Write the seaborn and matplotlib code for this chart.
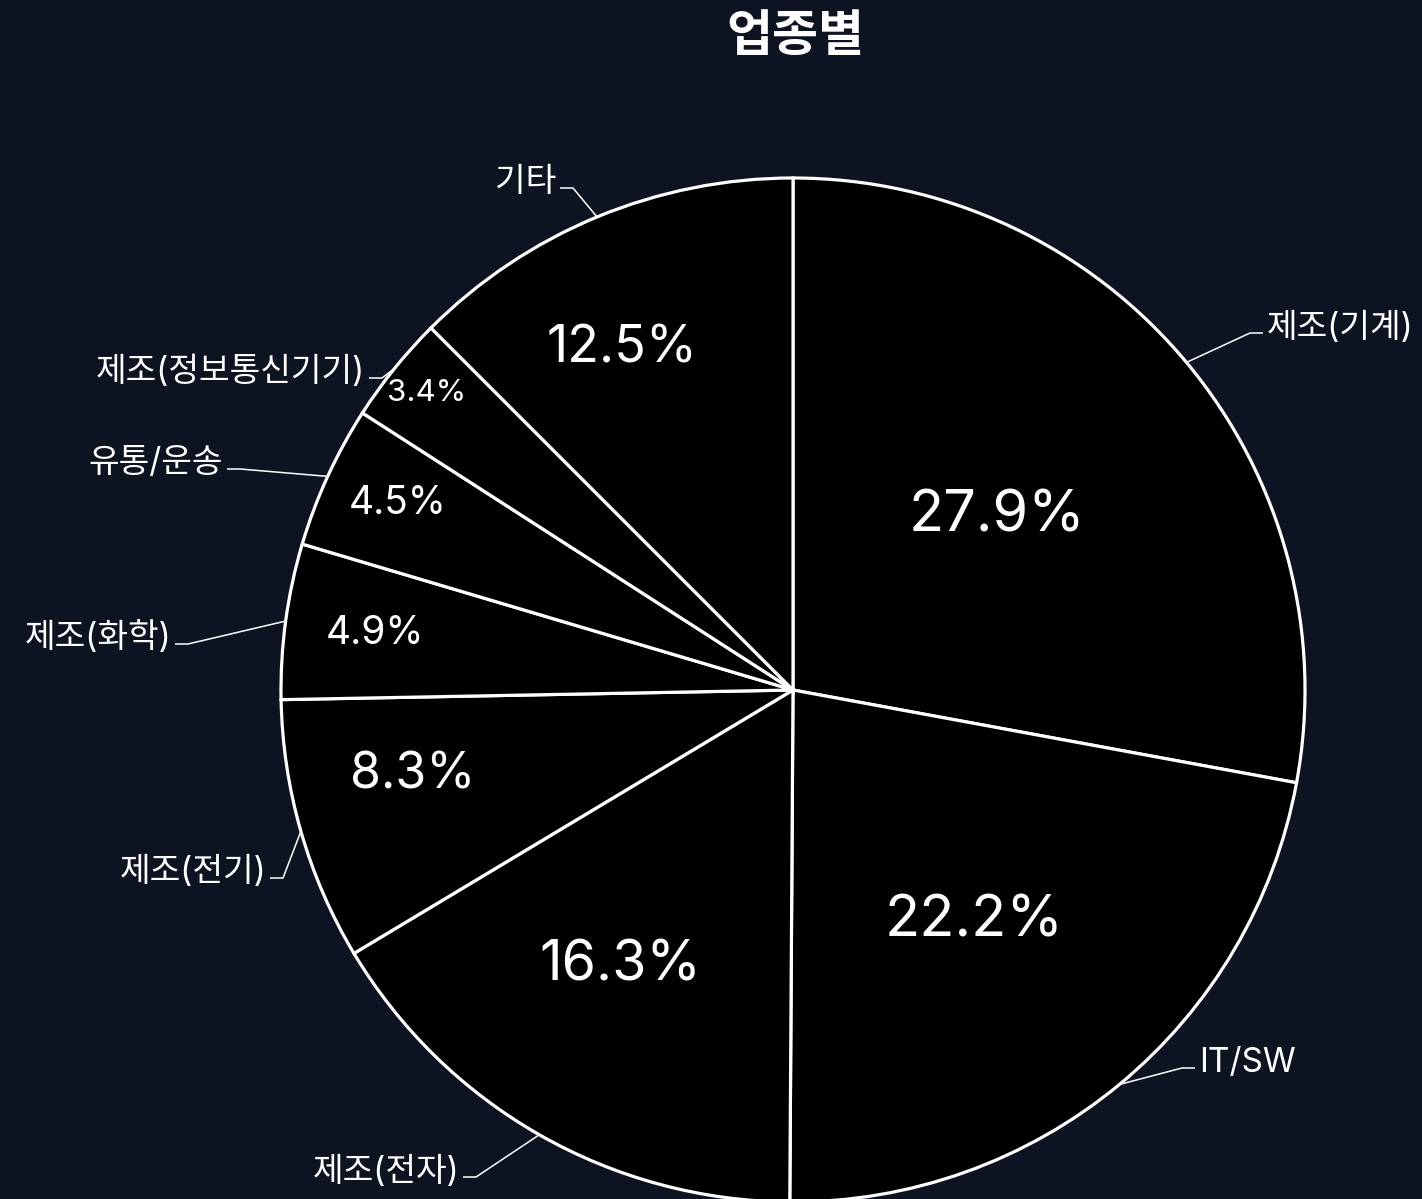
import numpy as np
import matplotlib
matplotlib.use('Agg')
import matplotlib.pyplot as plt
import seaborn as sns

# 업종별 비중 (%)
categories = ['제조(기계)', 'IT/SW', '제조(전자)', '제조(전기)', '제조(화학)',
              '유통/운송', '제조(정보통신기기)', '기타']
shares = [27.9, 22.2, 16.3, 8.3, 4.9, 4.5, 3.4, 12.5]
title = '업종별'

# 레이아웃 (픽셀 기준, 위에서부터, 1422x1199)
W, H = 1422, 1199
CENTER = (793, 690)
RADIUS = 512
BG = '#0d1320'
pct_sizes = [41.5, 41.5, 40, 36, 28, 28, 22.5, 37.5]
pct_pos = [(997, 510), (974, 915), (620, 960), (413, 770),
           (375, 630), (398, 500), (427, 390), (622, 343)]
# 라벨선 수평 구간의 바깥 끝점
label_anchor = [(1263, 333), (1195, 1068), (463, 1177), (270, 878),
                (175, 644), (227, 469), (369, 378), (560, 188)]

sns.set_theme(style='dark', rc={'figure.facecolor': BG, 'axes.facecolor': BG})
plt.rcParams['font.family'] = ['Inter', 'Noto Sans CJK KR', 'DejaVu Sans']


def fy(y):
    # 위에서부터 잰 픽셀 -> 축 좌표
    return H - y


fig = plt.figure(figsize=(W / 100, H / 100), dpi=100)
ax = fig.add_axes([0, 0, 1, 1])
ax.set_xlim(0, W)
ax.set_ylim(0, H)
ax.set_aspect('equal')
ax.axis('off')

cx, cy = CENTER[0], fy(CENTER[1])
wedges, _ = ax.pie(shares, startangle=90, counterclock=False,
                   center=(cx, cy), radius=RADIUS,
                   colors=['black'] * len(shares),
                   wedgeprops=dict(edgecolor='white', linewidth=2.3))
ax.set_xlim(0, W)
ax.set_ylim(0, H)

for i, w in enumerate(wedges):
    # 퍼센트 라벨 (숫자 높이의 가운데를 맞춤)
    px, py = pct_pos[i]
    size_px = pct_sizes[i] * 100 / 72
    ax.text(px, fy(py + 0.365 * size_px), f'{shares[i]:.1f}%',
            color='white', fontsize=pct_sizes[i], ha='center', va='baseline')

    # 라벨선 + 업종명
    mid = np.deg2rad((w.theta1 + w.theta2) / 2)
    ex, ey = cx + RADIUS * np.cos(mid), cy + RADIUS * np.sin(mid)
    axp, ayp = label_anchor[i][0], fy(label_anchor[i][1])
    side = 1 if axp > cx else -1
    elbow = (axp - side * 13, ayp)
    ax.plot([ex, elbow[0], axp], [ey, elbow[1], ayp], color='white', lw=1.1,
            solid_capstyle='butt')
    ax.text(axp + side * 4, ayp - 3.5, categories[i], color='white', fontsize=24,
            ha='left' if side > 0 else 'right', va='baseline')

fig.text(795 / W, 1 - 51 / H, title, color='white', fontsize=36,
         fontweight='bold', ha='center', va='baseline')

fig.savefig('out.png', dpi=100, facecolor=BG)
